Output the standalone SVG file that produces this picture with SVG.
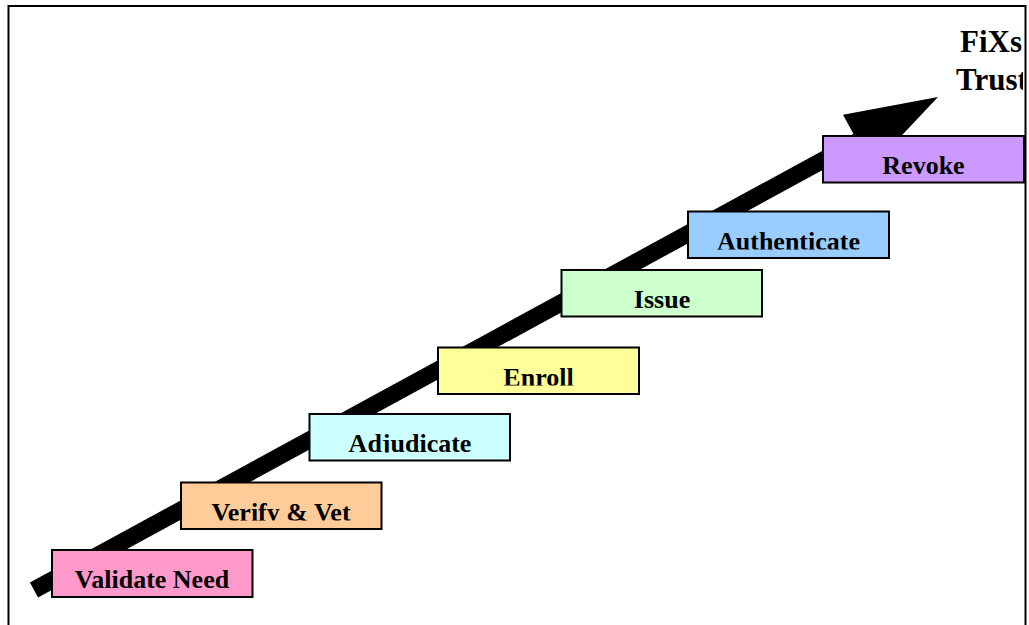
<svg xmlns="http://www.w3.org/2000/svg" width="1029" height="625" viewBox="0 0 1029 625">
  <defs>
    <style>
      .box { stroke: #000; stroke-width: 2; }
      .lbl { font-family: "Liberation Serif", "Times New Roman", serif; font-weight: bold; font-size: 26px; fill: #000; text-anchor: middle; }
      .title { font-family: "Liberation Serif", "Times New Roman", serif; font-weight: bold; font-size: 31px; fill: #000; }
    </style>
    <clipPath id="cVal"><rect x="52" y="550" width="201" height="38.5"/></clipPath>
    <clipPath id="cVer"><rect x="181" y="482" width="201" height="38.5"/></clipPath>
    <clipPath id="cAdj"><rect x="309" y="414" width="201" height="38.5"/></clipPath>
    <clipPath id="cEnr"><rect x="438" y="347" width="201" height="38.5"/></clipPath>
    <clipPath id="cIss"><rect x="561" y="270" width="201" height="38.5"/></clipPath>
    <clipPath id="cAut"><rect x="688" y="211" width="201" height="38.5"/></clipPath>
    <clipPath id="cRev"><rect x="823" y="136" width="201" height="38"/></clipPath>
    <clipPath id="cTitle"><rect x="900" y="0" width="123" height="120"/></clipPath>
  </defs>

  <rect x="0" y="0" width="1029" height="625" fill="#fff"/>
  <path d="M8.5 625 V6 H1025.5 V625" fill="none" stroke="#000" stroke-width="2"/>

  <g id="connectors">
    <line x1="34" y1="590" x2="860" y2="140" stroke="#000" stroke-width="17"/>
    <polygon points="938,97 843,114.7 871.8,167.3" fill="#000"/>
  </g>

  <g id="title" clip-path="url(#cTitle)">
    <text class="title" x="960" y="52">FiXs</text>
    <text class="title" x="956" y="90">Trust</text>
  </g>

  <g id="validate">
    <rect class="box" x="52" y="550" width="200.5" height="47" fill="#FF99CC"/>
    <text class="lbl" x="152" y="588" clip-path="url(#cVal)">Validate Need</text>
  </g>
  <g id="verify">
    <rect class="box" x="181" y="482.5" width="200.5" height="46.5" fill="#FFCC99"/>
    <text class="lbl" x="281" y="520.5" clip-path="url(#cVer)">Verify &amp; Vet</text>
  </g>
  <g id="adjudicate">
    <rect class="box" x="309.5" y="414" width="200.5" height="46.5" fill="#CCFFFF"/>
    <text class="lbl" x="410" y="452" clip-path="url(#cAdj)">Adjudicate</text>
  </g>
  <g id="enroll">
    <rect class="box" x="438" y="347.5" width="201" height="46.5" fill="#FFFF99"/>
    <text class="lbl" x="538.5" y="385.5" clip-path="url(#cEnr)">Enroll</text>
  </g>
  <g id="issue">
    <rect class="box" x="561.5" y="270" width="200.5" height="46.5" fill="#CCFFCC"/>
    <text class="lbl" x="662" y="308" clip-path="url(#cIss)">Issue</text>
  </g>
  <g id="authenticate">
    <rect class="box" x="688" y="211.5" width="201" height="46.5" fill="#99CCFF"/>
    <text class="lbl" x="788.5" y="249.5" clip-path="url(#cAut)">Authenticate</text>
  </g>
  <g id="revoke">
    <rect class="box" x="823" y="136" width="201" height="46.5" fill="#CC99FF"/>
    <text class="lbl" x="923.5" y="173.5" clip-path="url(#cRev)">Revoke</text>
  </g>
</svg>
